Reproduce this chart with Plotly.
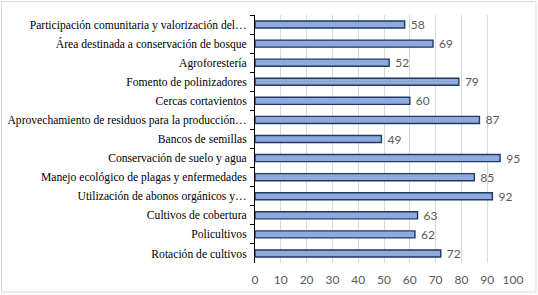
import plotly.graph_objects as go

categories = [
    "Participación comunitaria y valorización del…",
    "Área destinada a conservación de bosque",
    "Agroforestería",
    "Fomento de polinizadores",
    "Cercas cortavientos",
    "Aprovechamiento de residuos para la producción…",
    "Bancos de semillas",
    "Conservación de suelo y agua",
    "Manejo ecológico de plagas y enfermedades",
    "Utilización de abonos orgánicos y…",
    "Cultivos de cobertura",
    "Policultivos",
    "Rotación de cultivos",
]
values = [58, 69, 52, 79, 60, 87, 49, 95, 85, 92, 63, 62, 72]
x_ticks = [0, 10, 20, 30, 40, 50, 60, 70, 80, 90, 100]

W, H = 538, 295
L, R, T, B = 255, 25, 15, 32
pw = W - L - R
ph = H - T - B

fig = go.Figure(go.Bar(
    x=values, y=categories, orientation="h",
    marker=dict(color="#8FAADC", line=dict(color="#1F3864", width=1.4)),
    width=0.37,
    text=values, texttemplate=" %{x}", textposition="outside", constraintext="none",
    textfont=dict(family="Lato, Liberation Sans, sans-serif", size=12, color="#595959"),
    cliponaxis=False,
))

fig.update_layout(
    width=W, height=H,
    margin=dict(l=L, r=R, t=T, b=B, pad=0, autoexpand=False),
    paper_bgcolor="white", plot_bgcolor="white",
    showlegend=False,
    xaxis=dict(
        range=[0, 100], tickvals=x_ticks, ticktext=[str(v) for v in x_ticks],
        showgrid=True, gridcolor="#D9D9D9", gridwidth=1,
        zeroline=False, showline=False, ticks="", automargin=False,
        tickfont=dict(family="Lato, Liberation Sans, sans-serif", size=12, color="#595959"),
        ticklabelstandoff=8,
    ),
    yaxis=dict(
        categoryorder="array", categoryarray=categories,
        autorange="reversed", automargin=False,
        showline=True, linecolor="#000000", linewidth=1,
        ticks="outside", ticklen=4, tickcolor="#000000", tickson="boundaries",
        showgrid=False,
        tickfont=dict(family="Liberation Serif, Times New Roman, serif", size=11.6, color="#000000"),
        ticklabelstandoff=5,
    ),
    shapes=[dict(
        type="rect", xref="paper", yref="paper",
        x0=-(L - 1.5) / pw, x1=1 + (R - 2) / pw,
        y0=-(B - 3) / ph, y1=1 + (T - 1.5) / ph,
        line=dict(color="#D9D9D9", width=1), fillcolor="rgba(0,0,0,0)",
        layer="below",
    )],
)

fig.write_html(
    "out.html",
    config={"displayModeBar": False},
    post_script="document.body.style.margin='0';document.body.style.overflow='hidden';",
)
